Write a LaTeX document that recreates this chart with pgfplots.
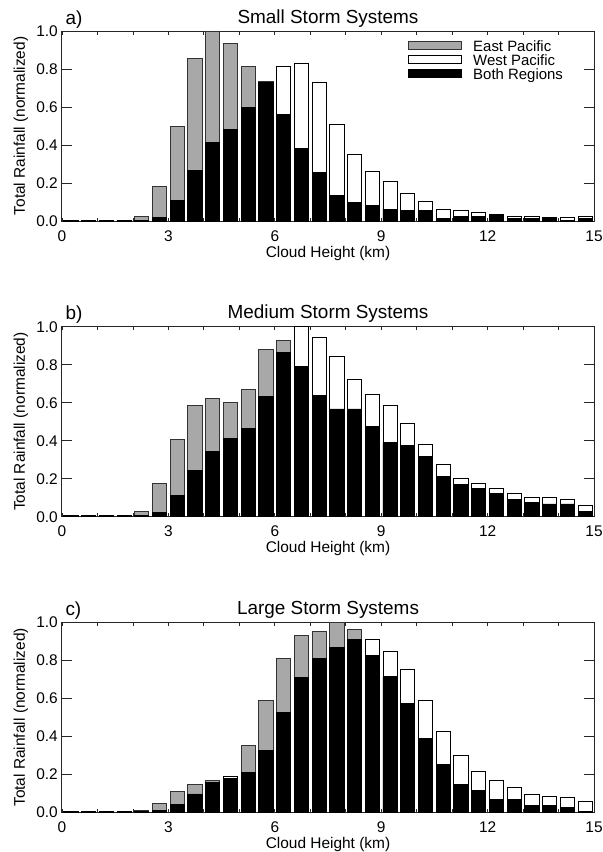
\documentclass[border=0pt]{standalone}
\usepackage{fontspec}
\setmainfont{Liberation Sans}
\usepackage{pgfplots}
\usepackage{pgfplotstable}
\pgfplotsset{compat=1.18}

\definecolor{eastgray}{RGB}{168,168,168}

% bin centre (km), East Pacific, West Pacific, Both Regions
\pgfplotstableread{
x     east   west   both
0.25  0.004  0.004  0.004
0.75  0.004  0.004  0.004
1.25  0.004  0.004  0.004
1.75  0.004  0.004  0.004
2.25  0.022  0.004  0.004
2.75  0.180  0.020  0.020
3.25  0.500  0.110  0.110
3.75  0.853  0.268  0.268
4.25  1.000  0.412  0.412
4.75  0.935  0.484  0.484
5.25  0.812  0.600  0.600
5.75  0.735  0.730  0.730
6.25  0.563  0.812  0.563
6.75  0.384  0.830  0.384
7.25  0.254  0.730  0.254
7.75  0.133  0.510  0.133
8.25  0.096  0.350  0.096
8.75  0.084  0.260  0.084
9.25  0.063  0.209  0.063
9.75  0.053  0.144  0.053
10.25 0.053  0.102  0.053
10.75 0.012  0.060  0.012
11.25 0.023  0.053  0.023
11.75 0.023  0.044  0.023
12.25 0.032  0.032  0.030
12.75 0.012  0.026  0.012
13.25 0.012  0.026  0.012
13.75 0.020  0.018  0.016
14.25 0.005  0.018  0.005
14.75 0.012  0.026  0.012
}\smallT

\pgfplotstableread{
x     east   west   both
0.25  0.004  0.004  0.004
0.75  0.004  0.004  0.004
1.25  0.004  0.004  0.004
1.75  0.004  0.004  0.004
2.25  0.028  0.004  0.004
2.75  0.176  0.020  0.020
3.25  0.407  0.111  0.111
3.75  0.583  0.243  0.243
4.25  0.621  0.343  0.343
4.75  0.600  0.412  0.412
5.25  0.669  0.463  0.463
5.75  0.880  0.634  0.634
6.25  0.926  0.866  0.866
6.75  0.789  1.000  0.789
7.25  0.639  0.944  0.639
7.75  0.567  0.843  0.567
8.25  0.567  0.725  0.567
8.75  0.475  0.643  0.475
9.25  0.391  0.583  0.391
9.75  0.373  0.493  0.373
10.25 0.317  0.382  0.317
10.75 0.213  0.273  0.213
11.25 0.169  0.200  0.169
11.75 0.148  0.173  0.148
12.25 0.123  0.151  0.123
12.75 0.093  0.120  0.093
13.25 0.076  0.099  0.076
13.75 0.067  0.099  0.067
14.25 0.067  0.090  0.067
14.75 0.030  0.060  0.030
}\mediumT

\pgfplotstableread{
x     east   west   both
0.25  0.004  0.004  0.004
0.75  0.004  0.004  0.004
1.25  0.004  0.004  0.004
1.75  0.004  0.004  0.004
2.25  0.009  0.003  0.003
2.75  0.048  0.010  0.010
3.25  0.110  0.042  0.042
3.75  0.148  0.097  0.097
4.25  0.168  0.157  0.157
4.75  0.178  0.187  0.178
5.25  0.351  0.208  0.208
5.75  0.591  0.326  0.326
6.25  0.811  0.527  0.527
6.75  0.933  0.711  0.711
7.25  0.954  0.810  0.810
7.75  1.000  0.866  0.866
8.25  0.963  0.912  0.912
8.75  0.824  0.910  0.824
9.25  0.713  0.848  0.713
9.75  0.571  0.755  0.571
10.25 0.390  0.589  0.390
10.75 0.250  0.425  0.250
11.25 0.148  0.298  0.148
11.75 0.116  0.215  0.116
12.25 0.067  0.169  0.067
12.75 0.067  0.132  0.067
13.25 0.037  0.097  0.037
13.75 0.037  0.086  0.037
14.25 0.026  0.078  0.026
14.75 0.007  0.060  0.007
}\largeT

\tikzset{panel/.style={anchor=base west, yshift=7bp, font=\fontsize{19}{22}\selectfont}}

\pgfplotsset{
  stormax/.style={
    scale only axis, width=532bp, height=190bp,
    xmin=0, xmax=15, ymin=0, ymax=1,
    clip=false,
    xtick={0,3,6,9,12,15}, minor x tick num=2,
    ytick={0,0.2,0.4,0.6,0.8,1},
    tick align=inside,
    major tick length=10bp, minor tick length=3.5bp,
    xtick style={/pgfplots/major tick length=3.5bp},
    every tick/.style={black!85, line width=0.8bp},
    axis line style={black!85, line width=1bp},
    /pgf/number format/assume math mode=true,
    y tick label style={/pgf/number format/fixed, /pgf/number format/fixed zerofill, /pgf/number format/precision=1},
    tick label style={font=\fontsize{15.5}{18}\selectfont},
    every x tick label/.append style={anchor=base, yshift=-20bp},
    every y tick label/.append style={anchor=east, inner sep=0pt, xshift=-4bp},
    every axis x label/.style={at={(rel axis cs:0.5,0)}, anchor=base, yshift=-36bp,
      font=\fontsize{15.5}{18}\selectfont},
    every axis y label/.style={at={(rel axis cs:0,0.5)}, xshift=-37bp, anchor=base, rotate=90,
      font=\fontsize{15.5}{18}\selectfont},
    every axis title/.style={at={(rel axis cs:0.5,1)}, anchor=base, yshift=8bp, font=\fontsize{19}{22}\selectfont},
    xlabel={Cloud Height (km)},
    ylabel={Total Rainfall (normalized)},
  },
  mybar/.style={ybar, bar width=0.4, bar shift=0pt, line width=0.9bp,
    legend image code/.code={\draw[##1, line width=0.9bp] (0bp,-1.5bp) rectangle (53bp,6.7bp); \path (64bp,0bp);}},
  eastbar/.style={mybar, fill=eastgray, draw=black!80},
  westbar/.style={mybar, fill=white, draw=black},
  bothbar/.style={mybar, fill=black, draw=black},
}

\begin{document}
\begin{tikzpicture}
\begin{axis}[stormax, at={(0bp,0bp)}, anchor=north west,
    title={Small Storm Systems},
    legend cell align=left,
    legend style={draw=none, fill=none, at={(rel axis cs:0.651,0.949)}, anchor=north west,
      inner sep=0pt, outer sep=0pt, row sep=0pt, column sep=0pt,
      nodes={inner sep=0pt, text height=11bp, text depth=2.7bp},
      font=\fontsize{15}{18}\selectfont}]
  \addplot[eastbar] table[x=x, y=east] {\smallT};
  \addlegendentry{East Pacific}
  \addplot[westbar] table[x=x, y=west] {\smallT};
  \addlegendentry{West Pacific}
  \addplot[bothbar] table[x=x, y=both] {\smallT};
  \addlegendentry{Both Regions}
  \node[panel] at (rel axis cs:0,1) {a)};
\end{axis}

\begin{axis}[stormax, at={(0bp,-295.7bp)}, anchor=north west,
    title={Medium Storm Systems}]
  \addplot[eastbar] table[x=x, y=east] {\mediumT};
  \addplot[westbar] table[x=x, y=west] {\mediumT};
  \addplot[bothbar] table[x=x, y=both] {\mediumT};
  \node[panel] at (rel axis cs:0,1) {b)};
\end{axis}

\begin{axis}[stormax, at={(0bp,-591.4bp)}, anchor=north west,
    title={Large Storm Systems}]
  \addplot[eastbar] table[x=x, y=east] {\largeT};
  \addplot[westbar] table[x=x, y=west] {\largeT};
  \addplot[bothbar] table[x=x, y=both] {\largeT};
  \node[panel] at (rel axis cs:0,1) {c)};
\end{axis}

\pgfresetboundingbox
\path (-62bp,31bp) rectangle (541bp,-821bp);
\end{tikzpicture}
\end{document}
